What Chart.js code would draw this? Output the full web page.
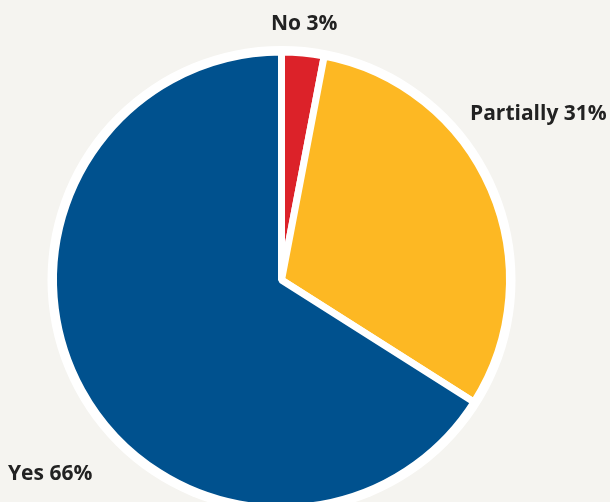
<!DOCTYPE html>
<html>
<head>
<meta charset="utf-8">
<script src="https://cdn.jsdelivr.net/npm/chart.js@4"></script>
<style>
  html, body { margin: 0; padding: 0; background: #f5f4f0; overflow: hidden; }
  #wrap { width: 610px; height: 520px; }
</style>
</head>
<body>
<div id="wrap"><canvas id="chart" width="610" height="520"></canvas></div>
<script>
const categories = ['No', 'Partially', 'Yes'];
const values = [3, 31, 66];
const colors = ['#dc2229', '#fdb823', '#00518e'];

// where each label sits on the page (x, middle y, alignment)
const labelSpots = [
    { x: 271, y: 24, align: 'left' },
    { x: 470, y: 114, align: 'left' },
    { x: 8, y: 474, align: 'left' }
];

const pieLabels = {
    id: 'pieLabels',
    beforeDatasetsDraw(chart) {
        // white ring around the whole pie
        const arc = chart.getDatasetMeta(0).data[0];
        const ctx = chart.ctx;
        ctx.save();
        ctx.beginPath();
        ctx.arc(arc.x, arc.y, arc.outerRadius + 6, 0, Math.PI * 2);
        ctx.fillStyle = '#ffffff';
        ctx.fill();
        ctx.restore();
    },
    afterDraw(chart) {
        const ctx = chart.ctx;
        ctx.save();
        ctx.font = 'bold 21px "Open Sans", sans-serif';
        ctx.fillStyle = '#222222';
        ctx.textBaseline = 'middle';
        categories.forEach((c, i) => {
            const s = labelSpots[i];
            ctx.textAlign = s.align;
            ctx.fillText(c + ' ' + values[i] + '%', s.x, s.y);
        });
        ctx.restore();
    }
};

new Chart(document.getElementById('chart'), {
    type: 'pie',
    data: {
        labels: categories,
        datasets: [{
            data: values,
            backgroundColor: colors,
            borderColor: '#ffffff',
            borderWidth: 7
        }]
    },
    options: {
        responsive: false,
        animation: false,
        layout: { padding: { left: 50, right: 97, top: 48, bottom: 8 } },
        plugins: {
            legend: { display: false },
            tooltip: { enabled: false }
        }
    },
    plugins: [pieLabels]
});
</script>
</body>
</html>
